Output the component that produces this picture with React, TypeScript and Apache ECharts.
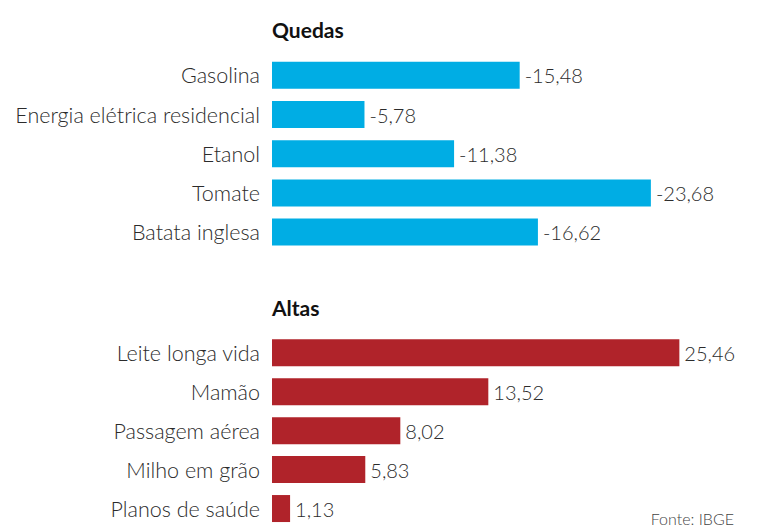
import React, { useEffect, useRef } from "react";
import * as echarts from "echarts";

const quedasCategories = ["Gasolina", "Energia elétrica residencial", "Etanol", "Tomate", "Batata inglesa"];
const quedasValues = [-15.48, -5.78, -11.38, -23.68, -16.62];
const altasCategories = ["Leite longa vida", "Mamão", "Passagem aérea", "Milho em grão", "Planos de saúde"];
const altasValues = [25.46, 13.52, 8.02, 5.83, 1.13];
const titles = ["Quedas", "Altas"];
const sourceText = "Fonte: IBGE";

const FONT = "Lato";
const TEXT = "#2b2b2b";
const fmt = (v: number) => v.toFixed(2).replace(".", ",");

export default function App() {
  const ref = useRef<HTMLDivElement>(null);
  useEffect(() => {
    if (!ref.current) return;
    const chart = echarts.init(ref.current, null, { renderer: "svg" });
    const yAxisBase = {
      type: "category" as const,
      inverse: true,
      axisLine: { show: false },
      axisTick: { show: false },
      splitLine: { show: false },
      axisLabel: { fontFamily: FONT, fontSize: 21.5, fontWeight: 300, color: TEXT, margin: 12 },
    };
    const xAxisBase = {
      type: "value" as const,
      min: 0,
      max: 30,
      show: false,
      splitLine: { show: false },
    };
    const labelBase = {
      show: true,
      position: "right" as const,
      distance: 5,
      fontFamily: FONT,
      fontSize: 20,
      fontWeight: 300,
      color: TEXT,
    };
    chart.setOption({
      animation: false,
      backgroundColor: "#ffffff",
      grid: [
        { left: 272, width: 480, top: 55.7, height: 196 },
        { left: 272, width: 480, top: 333.4, height: 196 },
      ],
      xAxis: [
        { ...xAxisBase, gridIndex: 0 },
        { ...xAxisBase, gridIndex: 1 },
      ],
      yAxis: [
        { ...yAxisBase, gridIndex: 0, data: quedasCategories },
        { ...yAxisBase, gridIndex: 1, data: altasCategories },
      ],
      series: [
        {
          type: "bar",
          xAxisIndex: 0,
          yAxisIndex: 0,
          barWidth: 27,
          itemStyle: { color: "#00ADE4" },
          data: quedasValues.map((v) => Math.abs(v)),
          label: { ...labelBase, formatter: (p: any) => fmt(quedasValues[p.dataIndex]) },
        },
        {
          type: "bar",
          xAxisIndex: 1,
          yAxisIndex: 1,
          barWidth: 27,
          itemStyle: { color: "#B0232A" },
          data: altasValues,
          label: { ...labelBase, formatter: (p: any) => fmt(altasValues[p.dataIndex]) },
        },
      ],
      graphic: [
        {
          type: "text",
          x: 272,
          y: 29,
          style: { text: titles[0], fontFamily: FONT, fontWeight: "bold", fontSize: 21, fill: "#111", verticalAlign: "middle" },
        },
        {
          type: "text",
          x: 272,
          y: 307,
          style: { text: titles[1], fontFamily: FONT, fontWeight: "bold", fontSize: 21, fill: "#111", verticalAlign: "middle" },
        },
        {
          type: "text",
          x: 734,
          y: 518,
          style: { text: sourceText, fontFamily: FONT, fontSize: 16, fontWeight: 300, fill: "#444", align: "right", verticalAlign: "middle" },
        },
      ],
    });
    return () => chart.dispose();
  }, []);
  return <div ref={ref} style={{ position: "absolute", left: 0, top: 0, width: 763, height: 528 }} />;
}
